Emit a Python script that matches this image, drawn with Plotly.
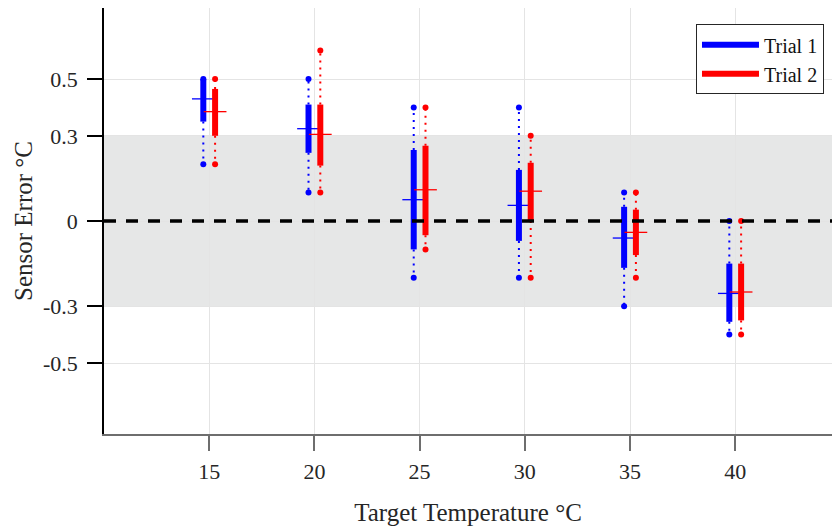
import plotly.graph_objects as go

# ---- data ----
targets = [15, 20, 25, 30, 35, 40]
x_ticks = [15, 20, 25, 30, 35, 40]
y_ticks = [0.5, 0.3, 0, -0.3, -0.5]
y_tick_labels = ["0.5", "0.3", "0", "-0.3", "-0.5"]

t1_max = [0.5, 0.5, 0.4, 0.4, 0.1, 0.0]
t1_q3 = [0.5, 0.41, 0.25, 0.18, 0.05, -0.15]
t1_med = [0.43, 0.325, 0.075, 0.055, -0.06, -0.255]
t1_q1 = [0.35, 0.24, -0.10, -0.07, -0.165, -0.355]
t1_min = [0.2, 0.1, -0.2, -0.2, -0.3, -0.4]

t2_max = [0.5, 0.6, 0.4, 0.3, 0.1, 0.0]
t2_q3 = [0.465, 0.41, 0.265, 0.205, 0.04, -0.15]
t2_med = [0.385, 0.305, 0.11, 0.105, -0.04, -0.25]
t2_q1 = [0.30, 0.195, -0.05, 0.0, -0.12, -0.35]
t2_min = [0.2, 0.1, -0.1, -0.2, -0.2, -0.4]

band_low, band_high = -0.3, 0.3

FONT = "Liberation Serif"
BLUE = "#0000ff"
RED = "#ff0000"

fig = go.Figure()


def add_trial(name, color, off, mx, q3, med, q1, mn):
    bx, by, wx, wy, ex, ey, mxs, mys = [], [], [], [], [], [], [], []
    for t, a, b, c, d, e in zip(targets, mx, q3, med, q1, mn):
        x = t + off
        bx += [x, x, None]
        by += [d, b, None]
        wx += [x, x, None, x, x, None]
        wy += [b, a, None, d, e, None]
        ex += [x, x]
        ey += [a, e]
        mxs += [x - 0.54, x + 0.54, None]
        mys += [c, c, None]
    fig.add_trace(go.Scatter(x=wx, y=wy, mode="lines", showlegend=False,
                             line=dict(color=color, width=2, dash="2px,5px"),
                             hoverinfo="skip"))
    fig.add_trace(go.Scatter(x=ex, y=ey, mode="markers", showlegend=False,
                             marker=dict(color=color, size=6),
                             hoverinfo="skip"))
    fig.add_trace(go.Scatter(x=bx, y=by, mode="lines", name=name,
                             line=dict(color=color, width=6)))
    fig.add_trace(go.Scatter(x=mxs, y=mys, mode="lines", showlegend=False,
                             line=dict(color=color, width=1.3),
                             hoverinfo="skip"))


add_trial("Trial 1", BLUE, -0.28, t1_max, t1_q3, t1_med, t1_q1, t1_min)
add_trial("Trial 2", RED, 0.28, t2_max, t2_q3, t2_med, t2_q1, t2_min)

fig.add_hrect(y0=band_low, y1=band_high, fillcolor="#e6e7e7", line_width=0,
              layer="below")
fig.add_hline(y=0, line=dict(color="black", width=3.5, dash="12px,10px"))

fig.update_layout(
    width=832, height=529,
    margin=dict(l=104, r=0, t=8, b=95, autoexpand=False),
    paper_bgcolor="white", plot_bgcolor="white",
    font=dict(family=FONT, size=22, color="#262626"),
    showlegend=True,
    legend=dict(x=0.989, y=0.962, xanchor="right", yanchor="top",
                bgcolor="white", bordercolor="#262626", borderwidth=1,
                font=dict(family=FONT, size=20, color="#111111"),
                itemwidth=57, tracegroupgap=0),
)
fig.update_xaxes(
    range=[10, 44.6], tickvals=x_ticks, ticktext=[str(v) for v in x_ticks],
    showgrid=True, gridcolor="#e4e4e4", gridwidth=1, zeroline=False,
    showline=True, linecolor="#6e6e6e", linewidth=1.5,
    ticks="outside", ticklen=15, tickcolor="#6e6e6e", tickwidth=1.5,
    ticklabelstandoff=2, automargin=False,
    tickfont=dict(family=FONT, size=22, color="#262626"),
    title=dict(text="Target Temperature °C",
               font=dict(family=FONT, size=25, color="#262626"), standoff=20),
)
fig.update_yaxes(
    range=[-0.75, 0.75], tickvals=y_ticks, ticktext=y_tick_labels,
    showgrid=True, gridcolor="#e4e4e4", gridwidth=1, zeroline=False,
    showline=True, linecolor="black", linewidth=1.5,
    ticks="outside", ticklen=15, tickcolor="black", tickwidth=1.5,
    ticklabelstandoff=5, automargin=False,
    tickfont=dict(family=FONT, size=22, color="#262626"),
    title=dict(text="Sensor Error °C",
               font=dict(family=FONT, size=25, color="#262626"), standoff=3),
)

fig.write_html("out.html",
               config={"displayModeBar": False},
               post_script="document.body.style.margin='0';"
                           "document.body.style.overflow='hidden';")
